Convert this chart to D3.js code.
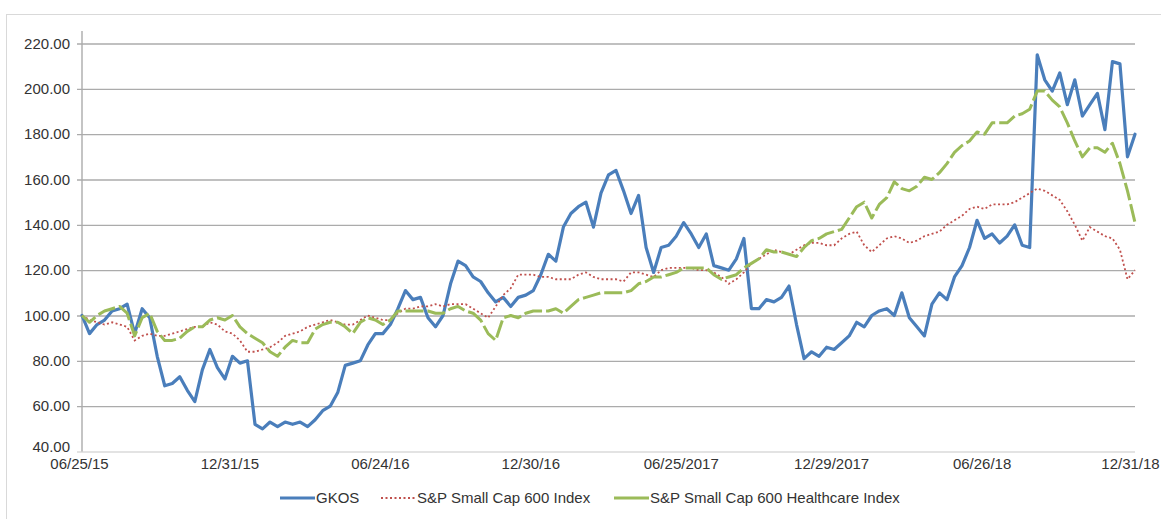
<!DOCTYPE html>
<html>
<head>
<meta charset="utf-8">
<script src="https://cdn.jsdelivr.net/npm/d3@7"></script>
<style>
  html, body { margin: 0; padding: 0; background: #fff; }
  svg { display: block; }
  text { font-family: "Liberation Sans", Arial, sans-serif; fill: #333; }
</style>
</head>
<body>
<svg id="chart" width="1161" height="519"></svg>
<script>
// ---- data (index-based trading periods) ----
const tickLabels = ["06/25/15", "12/31/15", "06/24/16", "12/30/16", "06/25/2017", "12/29/2017", "06/26/18", "12/31/18"];
const tickIndex = [0, 20, 40, 60, 80, 100, 120, 140];
const yTicks = [40, 60, 80, 100, 120, 140, 160, 180, 200, 220];
const seriesNames = ["GKOS", "S&P Small Cap 600 Index", "S&P Small Cap 600 Healthcare Index"];

const gkos = [
  100, 92, 96, 98, 102, 103, 105, 92, 103, 99,
  82, 69, 70, 73, 67, 62, 76, 85, 77, 72,
  82, 79, 80, 52, 50, 53, 51, 53, 52, 53,
  51, 54, 58, 60, 66, 78, 79, 80, 87, 92,
  92, 96, 103, 111, 107, 108, 99, 95, 100, 114,
  124, 122, 117, 115, 110, 106, 108, 104, 108, 109,
  111, 118, 127, 124, 139, 145, 148, 150, 139, 154,
  162, 164, 155, 145, 153, 130, 119, 130, 131, 135,
  141, 136, 130, 136, 122, 121, 120, 125, 134, 103,
  103, 107, 106, 108, 113, 96, 81, 84, 82, 86,
  85, 88, 91, 97, 95, 100, 102, 103, 100, 110,
  99, 95, 91, 105, 110, 107, 117, 122, 130, 142,
  134, 136, 132, 135, 140, 131, 130, 215, 204, 199,
  207, 193, 204, 188, 193, 198, 182, 212, 211, 170,
  180
];
const sp600 = [
  100, 98, 97, 96, 97, 96, 95, 89, 91, 92,
  91, 91, 92, 93, 94, 95, 95, 97, 96, 93,
  92, 89, 84, 84, 85, 86, 88, 91, 92, 93,
  95, 96, 97, 98, 97, 96, 96, 98, 100, 99,
  98, 98, 101, 103, 103, 104, 104, 105, 104, 105,
  105, 105, 103, 101, 99, 104, 109, 112, 118, 118,
  118, 117, 117, 116, 116, 116, 118, 119, 117, 116,
  116, 116, 115, 119, 119, 118, 117, 120, 121, 121,
  121, 121, 120, 120, 119, 117, 114, 116, 119, 123,
  125, 127, 129, 128, 127, 129, 131, 132, 132, 131,
  131, 134, 136, 137, 131, 128, 131, 134, 135, 134,
  132, 133, 135, 136, 137, 140, 142, 144, 147, 148,
  147, 149, 149, 149, 150, 152, 154, 156, 155, 153,
  151, 146, 140, 133, 139, 137, 135, 134, 129, 116,
  120
];
const spHealth = [
  100, 97, 100, 102, 103, 104, 101, 91, 99, 101,
  93, 89, 89, 90, 93, 95, 95, 98, 99, 98,
  100, 95, 92, 90, 88, 84, 82, 86, 89, 88,
  88, 94, 96, 97, 97, 95, 92, 97, 99, 98,
  96, 98, 102, 102, 102, 102, 102, 101, 101, 103,
  104, 102, 101, 98, 92, 89, 99, 100, 99, 101,
  102, 102, 102, 103, 101, 104, 107, 108, 109, 110,
  110, 110, 110, 111, 114, 115, 117, 117, 118, 119,
  121, 121, 121, 121, 118, 116, 117, 118, 121, 123,
  125, 129, 128, 128, 127, 126, 130, 133, 134, 136,
  137, 138, 143, 148, 150, 143, 149, 152, 159, 156,
  155, 157, 161, 160, 163, 167, 172, 175, 177, 181,
  180, 185, 185, 185, 188, 189, 191, 199, 199, 195,
  192, 185, 177, 170, 174, 174, 172, 176, 167, 155,
  141
];

// ---- layout ----
const svg = d3.select("#chart");
const X0 = 82, X1 = 1135, YTOP = 43.5, YBOT = 451.5;

svg.append("rect")
  .attr("x", 6.5).attr("y", 14.5).attr("width", 1200).attr("height", 600)
  .attr("fill", "#fff").attr("stroke", "#d9d9d9").attr("stroke-width", 1);

const x = d3.scaleLinear().domain([0, gkos.length - 1]).range([X0, X1]);
const y = d3.scaleLinear().domain([40, 220]).range([YBOT, YTOP]);

// y axis with gridlines (axis placed at the right edge so ticks run leftwards)
const yAxis = d3.axisLeft(y)
  .tickValues(yTicks)
  .tickFormat(d3.format(".2f"))
  .tickSize(X1 - X0 + 5)
  .tickPadding(7);
const gy = svg.append("g").attr("transform", `translate(${X1},0)`).call(yAxis);
gy.select(".domain").remove();
gy.selectAll(".tick line").attr("stroke", "#ababab").attr("stroke-width", 1.4);
gy.selectAll(".tick").filter(d => d === 40).select("line").attr("stroke", "#c8c8c8").attr("stroke-width", 1.2);
gy.selectAll(".tick text").style("font-size", "15px").attr("fill", "#333");
gy.selectAll(".tick").filter(d => d === 40).select("text").attr("dy", "0em");

// vertical axis line
svg.append("line")
  .attr("x1", X0).attr("x2", X0).attr("y1", 31).attr("y2", YBOT)
  .attr("stroke", "#ababab").attr("stroke-width", 1.4);

// x axis
const xAxis = d3.axisBottom(x)
  .tickValues(tickIndex)
  .tickFormat((d, i) => tickLabels[i])
  .tickSize(0)
  .tickPadding(7);
const gx = svg.append("g").attr("transform", `translate(0,${YBOT})`).call(xAxis);
gx.select(".domain").remove();
gx.selectAll(".tick text").style("font-size", "15px").attr("fill", "#333").attr("dx", "-3");
gx.selectAll(".tick").filter(d => d === 140).select("text").attr("dx", "-5");

// lines
const line = d3.line().x((d, i) => x(i)).y(d => y(d));

svg.append("path").datum(gkos)
  .attr("d", line).attr("fill", "none")
  .attr("stroke", "#4a7ebb").attr("stroke-width", 3.2)
  .attr("stroke-linejoin", "round").attr("stroke-linecap", "round");

svg.append("path").datum(sp600)
  .attr("d", line).attr("fill", "none")
  .attr("stroke", "#c0504d").attr("stroke-width", 1.8)
  .attr("stroke-dasharray", "2,2.5");

svg.append("path").datum(spHealth)
  .attr("d", line).attr("fill", "none")
  .attr("stroke", "#9bbb59").attr("stroke-width", 3)
  .attr("stroke-dasharray", "18,4")
  .attr("stroke-linejoin", "round");

// legend
const legendY = 498;
const legendItems = [
  { name: seriesNames[0], x: 280, color: "#4a7ebb", width: 3.2, dash: null },
  { name: seriesNames[1], x: 381, color: "#c0504d", width: 1.8, dash: "2,2.5" },
  { name: seriesNames[2], x: 614, color: "#9bbb59", width: 3, dash: null }
];
const lg = svg.append("g");
legendItems.forEach(it => {
  lg.append("line")
    .attr("x1", it.x).attr("x2", it.x + 35)
    .attr("y1", legendY).attr("y2", legendY)
    .attr("stroke", it.color).attr("stroke-width", it.width)
    .attr("stroke-dasharray", it.dash);
  lg.append("text")
    .attr("x", it.x + 36).attr("y", legendY)
    .attr("dy", "0.35em")
    .style("font-size", "15px")
    .text(it.name);
});
</script>
</body>
</html>
